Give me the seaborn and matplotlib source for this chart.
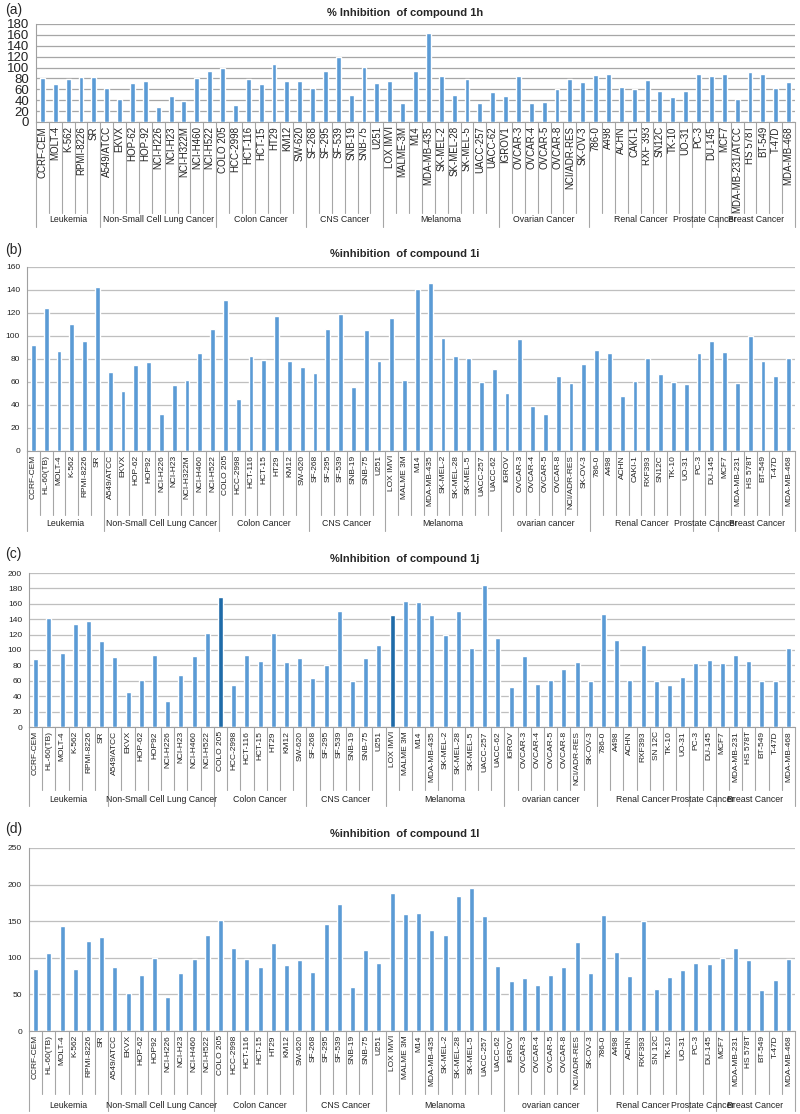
import seaborn as sns
import pandas as pd
import matplotlib.pyplot as plt

sns.set_style("white")
plt.rcParams['font.family'] = ['Liberation Sans', 'DejaVu Sans']

# ---- panel (a): compound 1h
groups_a = ['Leukemia', 'Non-Small Cell Lung Cancer', 'Colon Cancer', 'CNS Cancer', 'Melanoma',
            'Ovarian Cancer', 'Renal Cancer', 'Prostate Cancer', 'Breast Cancer']
sizes_a = [5, 9, 7, 6, 9, 7, 8, 2, 6]
cells_a = ['CCRF-CEM', 'MOLT-4', 'K-562', 'RPMI-8226', 'SR',
           'A549/ATCC', 'EKVX', 'HOP-62', 'HOP-92', 'NCI-H226', 'NCI-H23', 'NCI-H322M', 'NCI-H460', 'NCI-H522',
           'COLO 205', 'HCC-2998', 'HCT-116', 'HCT-15', 'HT29', 'KM12', 'SW-620',
           'SF-268', 'SF-295', 'SF-539', 'SNB-19', 'SNB-75', 'U251',
           'LOX IMVI', 'MALME-3M', 'M14', 'MDA-MB-435', 'SK-MEL-2', 'SK-MEL-28', 'SK-MEL-5', 'UACC-257', 'UACC-62',
           'IGROV1', 'OVCAR-3', 'OVCAR-4', 'OVCAR-5', 'OVCAR-8', 'NCI/ADR-RES', 'SK-OV-3',
           '786-0', 'A498', 'ACHN', 'CAKI-1', 'RXF 393', 'SN12C', 'TK-10', 'UO-31',
           'PC-3', 'DU-145',
           'MCF7', 'MDA-MB-231/ATCC', 'HS 578T', 'BT-549', 'T-47D', 'MDA-MB-468']
vals_a = [81, 70, 79, 82, 82,
          63, 43, 71, 76, 27, 48, 39, 81, 94,
          99, 32, 79, 70, 107, 76, 76,
          63, 93, 119, 50, 101, 71,
          76, 34, 94, 163, 85, 50, 79, 34, 55,
          48, 85, 34, 37, 60, 79, 74,
          87, 88, 65, 60, 77, 57, 45, 57,
          88, 85,
          88, 43, 91, 88, 62, 74]

# ---- panel (b): compound 1i
groups_b = ['Leukemia', 'Non-Small Cell Lung Cancer', 'Colon Cancer', 'CNS Cancer', 'Melanoma',
            'ovarian cancer', 'Renal Cancer', 'Prostate Cancer', 'Breast Cancer']
sizes_b = [6, 9, 7, 6, 9, 7, 8, 2, 6]
cells_b = ['CCRF-CEM', 'HL-60(TB)', 'MOLT-4', 'K-562', 'RPMI-8226', 'SR',
           'A549/ATCC', 'EKVX', 'HOP-62', 'HOP92', 'NCI-H226', 'NCI-H23', 'NCI-H322M', 'NCI-H460', 'NCI-H522',
           'COLO 205', 'HCC-2998', 'HCT-116', 'HCT-15', 'HT29', 'KM12', 'SW-620',
           'SF-268', 'SF-295', 'SF-539', 'SNB-19', 'SNB-75', 'U251',
           'LOX IMVI', 'MALME 3M', 'M14', 'MDA-MB-435', 'SK-MEL-2', 'SK-MEL-28', 'SK-MEL-5', 'UACC-257', 'UACC-62',
           'IGROV', 'OVCAR-3', 'OVCAR-4', 'OVCAR-5', 'OVCAR-8', 'NCI/ADR-RES', 'SK-OV-3',
           '786-0', 'A498', 'ACHN', 'CAKI-1', 'RXF393', 'SN12C', 'TK-10', 'UO-31',
           'PC-3', 'DU-145',
           'MCF7', 'MDA-MB-231', 'HS 578T', 'BT-549', 'T-47D', 'MDA-MB-468']
vals_b = [92, 124, 87, 110, 96, 143,
          69, 52, 75, 77, 32, 57, 62, 85, 106,
          131, 45, 83, 79, 117, 78, 73,
          68, 106, 119, 56, 105, 78,
          116, 62, 141, 146, 98, 83, 81, 60, 71,
          50, 97, 39, 32, 65, 59, 76,
          88, 85, 48, 61, 81, 67, 60, 58,
          85, 96,
          86, 59, 100, 78, 65, 81]

# ---- panel (c): compound 1j
groups_c = groups_b
sizes_c = [6, 8, 7, 6, 9, 7, 7, 2, 6]
cells_c = ['CCRF-CEM', 'HL-60(TB)', 'MOLT-4', 'K-562', 'RPMI-8226', 'SR',
           'A549/ATCC', 'EKVX', 'HOP-62', 'HOP92', 'NCI-H226', 'NCI-H23', 'NCI-H460', 'NCI-H522',
           'COLO 205', 'HCC-2998', 'HCT-116', 'HCT-15', 'HT29', 'KM12', 'SW-620',
           'SF-268', 'SF-295', 'SF-539', 'SNB-19', 'SNB-75', 'U251',
           'LOX IMVI', 'MALME 3M', 'M14', 'MDA-MB-435', 'SK-MEL-2', 'SK-MEL-28', 'SK-MEL-5', 'UACC-257', 'UACC-62',
           'IGROV', 'OVCAR-3', 'OVCAR-4', 'OVCAR-5', 'OVCAR-8', 'NCI/ADR-RES', 'SK-OV-3',
           '786-0', 'A498', 'ACHN', 'RXF393', 'SN 12C', 'TK-10', 'UO-31',
           'PC-3', 'DU-145',
           'MCF7', 'MDA-MB-231', 'HS 578T', 'BT-549', 'T-47D', 'MDA-MB-468']
vals_c = [88, 141, 96, 134, 138, 112,
          91, 45, 61, 93, 34, 67, 92, 122,
          169, 55, 94, 86, 122, 84, 89,
          64, 80, 151, 60, 90, 107,
          146, 163, 162, 146, 119, 151, 103, 185, 116,
          52, 92, 56, 61, 75, 84, 60,
          147, 113, 61, 106, 60, 55, 65,
          83, 87,
          83, 94, 86, 60, 60, 102]
dark_c = ['COLO 205', 'LOX IMVI']

# ---- panel (d): compound 1l
groups_d = groups_b
sizes_d = sizes_c
cells_d = cells_c
vals_d = [85, 106, 143, 85, 123, 128,
          88, 52, 76, 100, 46, 79, 99, 131,
          151, 113, 99, 88, 120, 90, 97,
          80, 146, 174, 60, 110, 93,
          189, 160, 161, 138, 131, 185, 195, 157, 89,
          68, 73, 63, 77, 87, 121, 79,
          159, 108, 75, 150, 58, 74, 84,
          93, 92,
          100, 114, 97, 56, 70, 99]

BLUE = '#5B9BD5'
DARK = '#1F6BA8'
W, H = 800, 1114

panels = [
    dict(tag='(a)', title='% Inhibition  of compound 1h', cells=cells_a, vals=vals_a, groups=groups_a,
         sizes=sizes_a, ymax=180, step=20, box=(36, 24, 795, 122), tag_y=10, title_y=13,
         sep=(91, 105, 98), ytf=9.5, xtf=7, grid='#A6A6A6'),
    dict(tag='(b)', title='%inhibition  of compound 1i', cells=cells_b, vals=vals_b, groups=groups_b,
         sizes=sizes_b, ymax=160, step=20, box=(27, 267, 795, 451), tag_y=250, title_y=254,
         sep=(64, 80, 73), ytf=6, xtf=6, grid='#BFBFBF'),
    dict(tag='(c)', title='%Inhibition  of compound 1j', cells=cells_c, vals=vals_c, groups=groups_c,
         sizes=sizes_c, ymax=200, step=20, box=(29, 573, 795, 727), tag_y=554, title_y=559,
         sep=(63, 79, 73), ytf=6, xtf=6, grid='#BFBFBF'),
    dict(tag='(d)', title='%inhibition  of compound 1l', cells=cells_d, vals=vals_d, groups=groups_d,
         sizes=sizes_d, ymax=250, step=50, box=(29, 848, 795, 1031), tag_y=829, title_y=834,
         sep=(63, 80, 74), ytf=6, xtf=6, grid='#BFBFBF'),
]

fig = plt.figure(figsize=(8, 11.14), dpi=100)

for p in panels:
    x0, y0, x1, y1 = p['box']
    ax = fig.add_axes([x0 / W, 1 - y1 / H, (x1 - x0) / W, (y1 - y0) / H])
    df = pd.DataFrame({'cell': p['cells'], 'value': p['vals']})
    dark = dark_c if p['tag'] == '(c)' else []
    colors = [DARK if c in dark else BLUE for c in p['cells']]
    sns.barplot(data=df, x='cell', y='value', hue='cell', palette=colors, legend=False,
                width=0.38, saturation=1, ax=ax, zorder=3)
    n = len(p['cells'])
    ax.set_xlim(-0.5, n - 0.5)
    ax.set_ylim(0, p['ymax'])
    ax.set_yticks(range(0, p['ymax'] + 1, p['step']))
    ax.yaxis.grid(True, color=p['grid'], lw=0.9, zorder=0)
    ax.set_axisbelow(True)
    ax.set_xlabel('')
    ax.set_ylabel('')
    ax.set_xticks(range(n))
    ax.set_xticklabels(p['cells'], rotation=90, fontsize=p['xtf'], va='top')
    ax.tick_params(axis='x', length=0, pad=3, colors='#222222')
    ax.tick_params(axis='y', labelsize=p['ytf'], length=3, width=0.7, color='#999999', pad=2,
                   labelcolor='#222222')
    for s in ['top', 'right']:
        ax.spines[s].set_visible(False)
    for s in ['left', 'bottom']:
        ax.spines[s].set_color('#A0A0A0')
        ax.spines[s].set_linewidth(0.8)

    # two-level category axis: separators and group names
    hpx = y1 - y0
    short, long_, lab = [v / hpx for v in p['sep']]
    bounds = [0]
    for s in p['sizes']:
        bounds.append(bounds[-1] + s)
    trans = ax.get_xaxis_transform()
    for i in range(n + 1):
        depth = long_ if i in bounds else short
        ax.plot([i - 0.5, i - 0.5], [0, -depth], transform=trans, clip_on=False,
                color='#A6A6A6', lw=0.8)
    for g, a, b in zip(p['groups'], bounds[:-1], bounds[1:]):
        ax.text((a + b - 1) / 2, -lab, g, transform=trans, ha='center', va='center',
                fontsize=6.3, color='#222222')

    fig.text(5 / W, 1 - p['tag_y'] / H, p['tag'], fontsize=10, va='center', ha='left')
    fig.text(405 / W, 1 - p['title_y'] / H, p['title'], fontsize=8, fontweight='bold',
             va='center', ha='center')

fig.savefig('out.png', dpi=100)
